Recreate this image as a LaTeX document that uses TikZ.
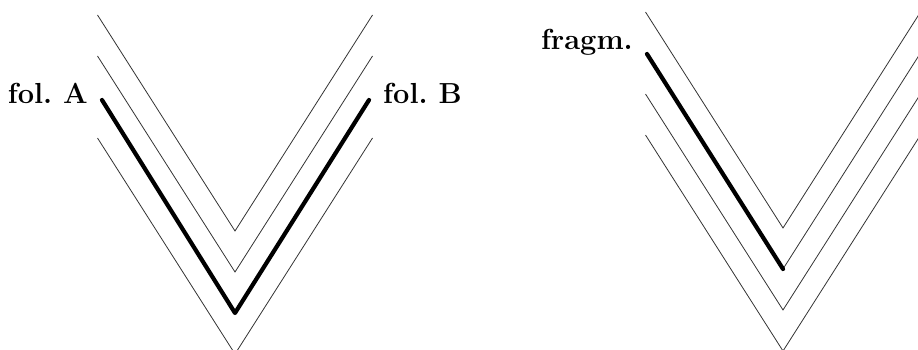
\documentclass[tikz,border=0pt]{standalone}
\usetikzlibrary{positioning}

\tikzset{
  leaf/.style={line width=0.8pt,black!80},
  joined/.style={line width=4.2pt,line cap=round,line join=round},
  lbl/.style={font=\fontsize{29}{31}\selectfont\bfseries,inner sep=0pt}
}

\begin{document}
\begin{tikzpicture}[x=1pt,y=-1pt]
\clip (0,0) rectangle (918,350);
% left quire: two leaves joined
\foreach \ay in {231,272,354}
  \draw[leaf] (97.5,\ay-216) -- (235,\ay) -- (372.5,\ay-216);
\coordinate (ftA) at (102,100);
\coordinate (ftB) at (369,100);
\draw[joined] (ftA) -- (235,313) -- (ftB);
\node[lbl,anchor=base east] (folA) at (88,104) {fol.\ A};
\node[lbl,anchor=base west] (folB) at (383,104) {fol.\ B};
% right quire: single fragment
\foreach \ay in {228,310,351}
  \draw[leaf] (645.5,\ay-216) -- (783,\ay) -- (920.5,\ay-216);
\draw[leaf] (783,269) -- (920.5,53);
\coordinate (frg) at (647,54);
\draw[joined] (frg) -- (783,269);
\node[lbl,anchor=base east] (fragm) at (633,50) {fragm.};
\end{tikzpicture}
\end{document}
